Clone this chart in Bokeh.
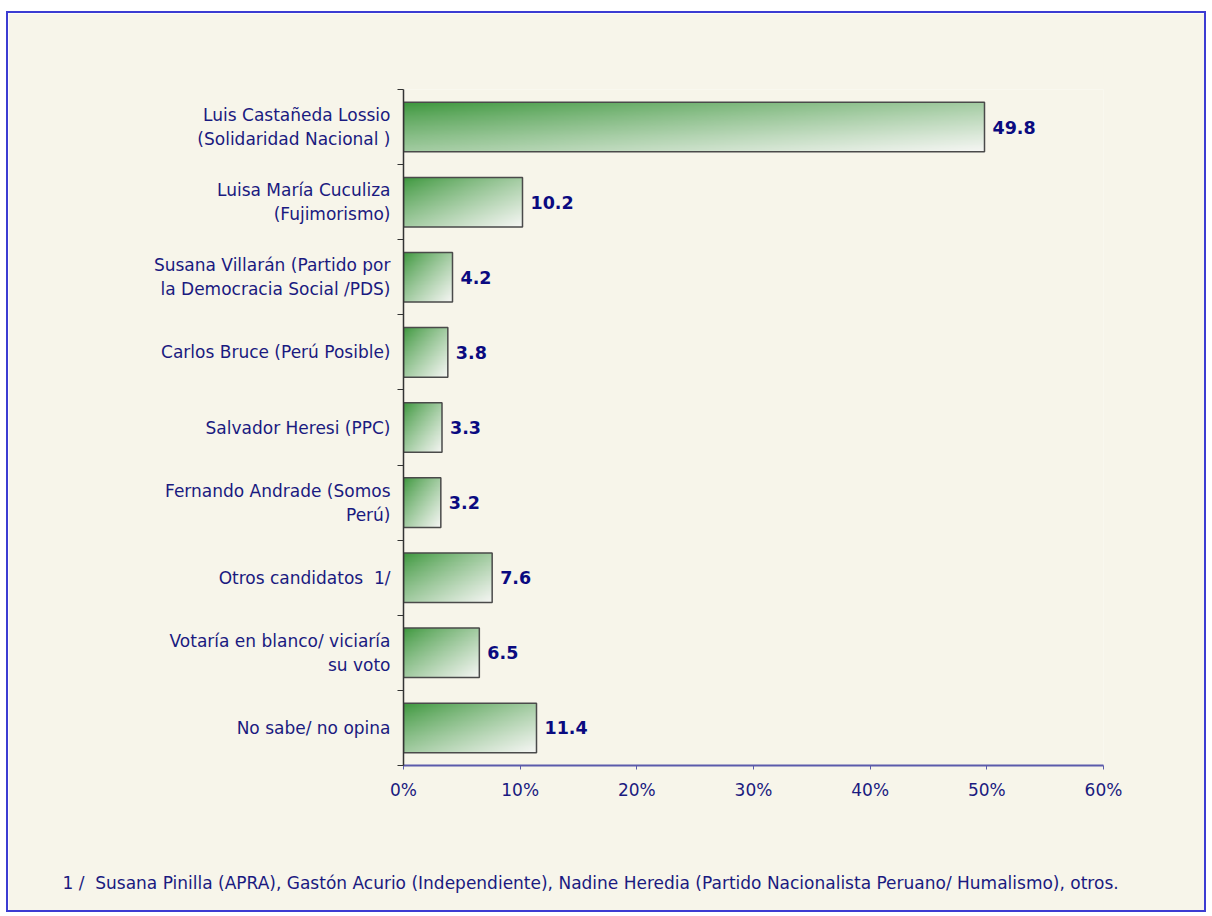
import numpy as np
from bokeh.plotting import figure
from bokeh.models import Range1d, FixedTicker, Title
from bokeh.core.properties import value
from bokeh.embed import file_html
from bokeh.resources import INLINE

# ---- data ----
categories = [
    "Luis Castañeda Lossio\n(Solidaridad Nacional )",
    "Luisa María Cuculiza\n(Fujimorismo)",
    "Susana Villarán (Partido por\nla Democracia Social /PDS)",
    "Carlos Bruce (Perú Posible)",
    "Salvador Heresi (PPC)",
    "Fernando Andrade (Somos\nPerú)",
    "Otros candidatos \u00a01/",
    "Votaría en blanco/ viciaría\nsu voto",
    "No sabe/ no opina",
]
values = [49.8, 10.2, 4.2, 3.8, 3.3, 3.2, 7.6, 6.5, 11.4]
x_ticks = [0, 10, 20, 30, 40, 50, 60]
x_tick_labels = ["0%", "10%", "20%", "30%", "40%", "50%", "60%"]
footnote = ("1 /\u00a0 Susana Pinilla (APRA), Gastón Acurio (Independiente), "
            "Nadine Heredia (Partido Nacionalista Peruano/ Humalismo), otros.")

FONT = "DejaVu Sans"
TXT = "#1a1a80"
BG = "#F7F5EA"

n = len(categories)
centers = [n - 1 - i + 0.5 for i in range(n)]
bar_h = 0.66

p = figure(width=1200, height=901, output_backend="svg", toolbar_location=None,
           x_range=Range1d(0, 60), y_range=Range1d(0, n),
           min_border_left=395, min_border_right=105,
           min_border_top=76, min_border_bottom=149)
p.background_fill_color = BG
p.border_fill_color = BG
p.outline_line_color = None
p.xgrid.grid_line_color = None
p.ygrid.grid_line_color = None
p.styles = {"border": "2px solid #3c3cd2", "margin-left": "6px",
            "margin-top": "11px"}

# gradient image (top-left green -> bottom-right pale)
nx, ny = 240, 60
u = np.linspace(0, 1, nx)[None, :]
v = np.linspace(0, 1, ny)[:, None]
t = (u + (1 - v)) / 2.0
t = np.clip(t, 0, 1) ** 0.85
c0 = np.array([58, 150, 58], dtype=float)
c1 = np.array([247, 247, 245], dtype=float)
img = np.empty((ny, nx), dtype=np.uint32)
view = img.view(dtype=np.uint8).reshape((ny, nx, 4))
for k in range(3):
    view[:, :, k] = (c0[k] * (1 - t) + c1[k] * t).astype(np.uint8)
view[:, :, 3] = 255

p.image_rgba(image=[img] * n, x=[0] * n, y=[c - bar_h / 2 for c in centers],
             dw=values, dh=[bar_h] * n)
p.hbar(y=centers, left=0, right=values, height=bar_h, fill_alpha=0,
       line_color="#4a4a4a", line_width=1.5)

p.text(x=values, y=centers, text=[f"{val:.1f}" for val in values],
       x_offset=8, text_baseline="middle", text_align="left",
       text_font=value(FONT), text_font_style="bold",
       text_font_size="17.5px", text_color="#0a0a80")

# x axis
xa = p.xaxis[0]
xa.ticker = FixedTicker(ticks=x_ticks)
xa.major_label_overrides = {t_: l for t_, l in zip(x_ticks, x_tick_labels)}
xa.axis_line_color = "#5b5bab"
xa.axis_line_width = 2
xa.major_tick_line_color = "#5b5bab"
xa.major_tick_out = 4
xa.major_tick_in = 0
xa.minor_tick_line_color = None
xa.major_label_standoff = 10
xa.major_label_text_font = FONT
xa.major_label_text_font_size = "17px"
xa.major_label_text_color = TXT

# y axis
ya = p.yaxis[0]
ya.ticker = FixedTicker(ticks=centers, minor_ticks=list(range(n + 1)))
ya.major_label_overrides = {c: lab for c, lab in zip(centers, categories)}
ya.axis_line_color = "#333333"
ya.axis_line_width = 1.5
ya.major_tick_line_color = None
ya.major_tick_out = 0
ya.major_tick_in = 0
ya.minor_tick_line_color = "#333333"
ya.minor_tick_out = 6
ya.minor_tick_in = 0
ya.major_label_standoff = 7
ya.major_label_text_font = FONT
ya.major_label_text_font_size = "17px"
ya.major_label_text_color = TXT

# spacer below the axis, then the footnote
p.add_layout(Title(text="\u00a0", text_font_size="2px", standoff=64,
                   text_color=BG), "below")
p.add_layout(Title(text=footnote, align="left", offset=-341, standoff=0,
                   text_font=FONT, text_font_size="17px",
                   text_font_style="normal", text_color=TXT), "below")

open("out.html", "w").write(file_html(p, INLINE))
